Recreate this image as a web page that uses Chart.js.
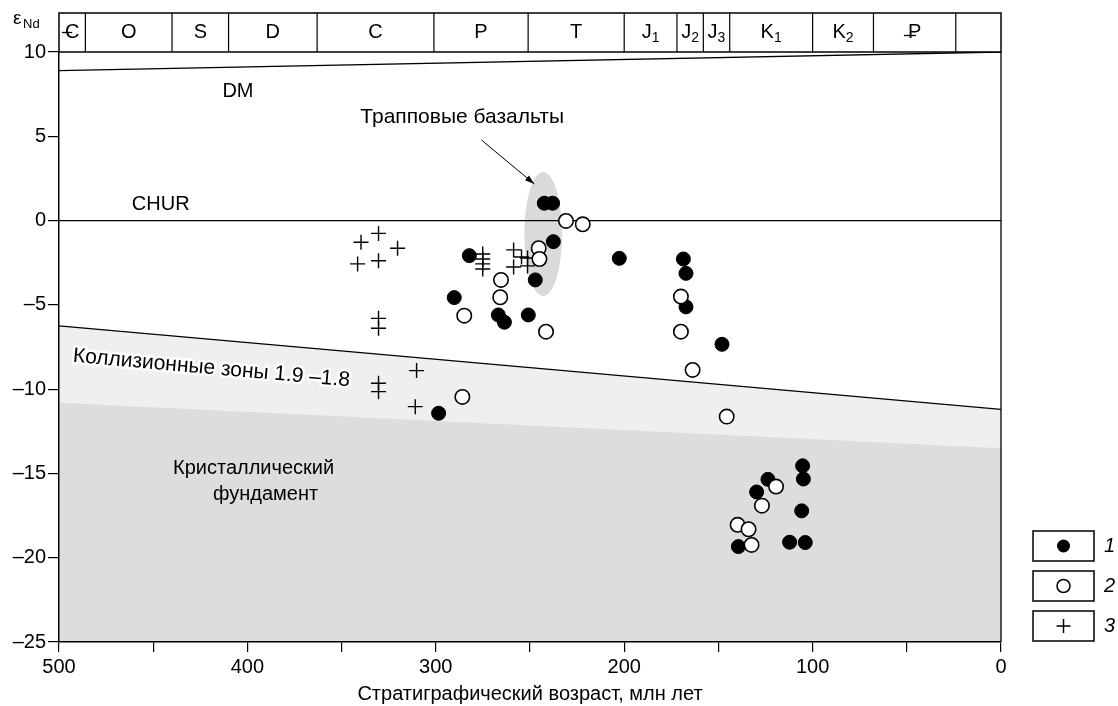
<!DOCTYPE html>
<html>
<head>
<meta charset="utf-8">
<script src="https://cdn.jsdelivr.net/npm/chart.js@4/dist/chart.umd.min.js"></script>
<style>body{margin:0;background:#fff}</style>
</head>
<body>
<canvas id="c" width="1118" height="706"></canvas>
<script>
// 1 - закрашенные кружки
var filledAge = [242.4, 238.0, 237.6, 282.2, 202.6, 168.6, 167.2, 247.2, 290.2, 167.2, 266.8, 263.6, 250.9, 148.1, 298.5, 105.3, 104.9, 123.7, 129.7, 105.8, 112.2, 103.9, 139.4];
var filledEps = [1.03, 1.03, -1.25, -2.08, -2.24, -2.28, -3.13, -3.52, -4.57, -5.12, -5.6, -6.03, -5.6, -7.34, -11.43, -14.55, -15.33, -15.35, -16.1, -17.22, -19.08, -19.1, -19.34];
// 2 - пустые кружки
var openAge = [230.9, 222, 245.4, 245, 265.4, 265.8, 284.9, 241.5, 169.9, 169.9, 163.7, 145.6, 285.9, 119.4, 126.9, 139.8, 134, 132.4];
var openEps = [-0.02, -0.22, -1.64, -2.28, -3.52, -4.55, -5.64, -6.59, -4.51, -6.59, -8.86, -11.63, -10.46, -15.78, -16.91, -18.05, -18.31, -19.24];
// 3 - крестики
var crossAge = [339.7, 330.4, 320.3, 341.5, 330.4, 330.4, 330.4, 310.2, 330.4, 330.4, 310.9, 275.1, 275.1, 275.1, 275.1, 258.7, 258.7, 254.5, 251.3, 251.3];
var crossEps = [-1.29, -0.76, -1.64, -2.57, -2.38, -5.8, -6.39, -8.9, -9.65, -10.15, -11.04, -1.98, -2.28, -2.57, -2.87, -1.74, -2.75, -2.16, -2.22, -2.69];

// линии (возраст 500 и 0)
var lineAge = [500, 0];
var dmEps = [8.9, 10];
var churEps = [0, 0];
var collisionEps = [-6.25, -11.2];
var basementEps = [-10.8, -13.5];

// шкала периодов
var periodBounds = [500, 486, 440, 410, 363, 301, 251, 200, 172, 158, 144, 100, 67.7, 24, 0];
var periodNames = ['C', 'O', 'S', 'D', 'C', 'P', 'T', 'J', 'J', 'J', 'K', 'K', 'P', ''];
var periodSubs = ['', '', '', '', '', '', '', '1', '2', '3', '1', '2', '', ''];

var FONT = "'Liberation Sans', Arial, sans-serif";

function pts(xs, ys) {
    return xs.map(function (x, i) { return { x: x, y: ys[i] }; });
}

var decor = {
    id: 'decor',
    beforeDraw: function (chart) {
        var ctx = chart.ctx, xs = chart.scales.x, ys = chart.scales.y, a = chart.chartArea;
        var px = function (v) { return xs.getPixelForValue(v); };
        var py = function (v) { return ys.getPixelForValue(v); };
        ctx.save();
        ctx.fillStyle = '#efefef';
        ctx.beginPath();
        ctx.moveTo(px(lineAge[0]), py(collisionEps[0]));
        ctx.lineTo(px(lineAge[1]), py(collisionEps[1]));
        ctx.lineTo(a.right, a.bottom);
        ctx.lineTo(a.left, a.bottom);
        ctx.closePath();
        ctx.fill();
        ctx.fillStyle = '#dddddd';
        ctx.beginPath();
        ctx.moveTo(px(lineAge[0]), py(basementEps[0]));
        ctx.lineTo(px(lineAge[1]), py(basementEps[1]));
        ctx.lineTo(a.right, a.bottom);
        ctx.lineTo(a.left, a.bottom);
        ctx.closePath();
        ctx.fill();
        // трапповые базальты
        ctx.fillStyle = '#dadada';
        ctx.beginPath();
        ctx.ellipse(px(243), py(-0.8), Math.abs(px(253) - px(243)), Math.abs(py(3.68) - py(0)), 0, 0, Math.PI * 2);
        ctx.fill();
        ctx.restore();
    },
    afterDraw: function (chart) {
        var ctx = chart.ctx, xs = chart.scales.x, ys = chart.scales.y, a = chart.chartArea;
        var px = function (v) { return xs.getPixelForValue(v); };
        var py = function (v) { return ys.getPixelForValue(v); };
        ctx.save();
        ctx.strokeStyle = '#000';
        ctx.fillStyle = '#000';
        ctx.lineWidth = 1.3;
        // правая граница
        ctx.beginPath();
        ctx.moveTo(a.right, a.top);
        ctx.lineTo(a.right, a.bottom);
        ctx.stroke();

        // шкала периодов
        var barTop = 13;
        ctx.lineWidth = 1.5;
        ctx.strokeRect(a.left, barTop, a.right - a.left, a.top - barTop);
        ctx.lineWidth = 1.2;
        for (var i = 1; i < periodBounds.length - 1; i++) {
            ctx.beginPath();
            ctx.moveTo(px(periodBounds[i]), barTop);
            ctx.lineTo(px(periodBounds[i]), a.top);
            ctx.stroke();
        }
        ctx.textBaseline = 'middle';
        var cy = (barTop + a.top) / 2;
        for (var j = 0; j < periodNames.length; j++) {
            var cx = (px(periodBounds[j]) + px(periodBounds[j + 1])) / 2;
            var name = periodNames[j], sub = periodSubs[j];
            ctx.font = '20px ' + FONT;
            var w1 = ctx.measureText(name).width;
            ctx.font = '14px ' + FONT;
            var w2 = sub ? ctx.measureText(sub).width : 0;
            var x0 = cx - (w1 + w2) / 2;
            ctx.font = '20px ' + FONT;
            ctx.textAlign = 'left';
            ctx.fillText(name, x0, cy);
            if (sub) {
                ctx.font = '14px ' + FONT;
                ctx.fillText(sub, x0 + w1, cy + 6);
            }
            ctx.lineWidth = 1.3;
            if (j === 0) {
                ctx.beginPath();
                ctx.moveTo(x0 - 3, cy);
                ctx.lineTo(x0 + w1 / 2, cy);
                ctx.stroke();
            }
            if (j === 12) {
                ctx.beginPath();
                ctx.moveTo(x0 - 4, cy + 3);
                ctx.lineTo(x0 + w1 * 0.6, cy + 3);
                ctx.stroke();
            }
        }

        // eps Nd
        ctx.textAlign = 'left';
        ctx.font = '19px ' + FONT;
        ctx.fillText('\u03b5', 13, 19);
        ctx.font = '13px ' + FONT;
        ctx.fillText('Nd', 23, 24);

        // подписи
        ctx.font = '20px ' + FONT;
        ctx.textAlign = 'center';
        ctx.fillText('DM', px(405), py(7.65));
        ctx.fillText('CHUR', px(446), py(0.93));
        ctx.font = '21px ' + FONT;
        ctx.fillText('Трапповые базальты', px(286), py(6.14));
        ctx.font = '20px ' + FONT;
        ctx.textAlign = 'left';
        ctx.fillText('Кристаллический', 173, 468);
        ctx.fillText('фундамент', 213, 494);

        // стрелка
        var ax0 = px(275.8), ay0 = py(4.78), ax1 = px(247.7), ay1 = py(2.17);
        ctx.lineWidth = 1;
        ctx.beginPath();
        ctx.moveTo(ax0, ay0);
        ctx.lineTo(ax1, ay1);
        ctx.stroke();
        var ang = Math.atan2(ay1 - ay0, ax1 - ax0);
        ctx.beginPath();
        ctx.moveTo(ax1, ay1);
        ctx.lineTo(ax1 - 10 * Math.cos(ang - 0.3), ay1 - 10 * Math.sin(ang - 0.3));
        ctx.lineTo(ax1 - 10 * Math.cos(ang + 0.3), ay1 - 10 * Math.sin(ang + 0.3));
        ctx.closePath();
        ctx.fill();

        // коллизионные зоны
        var rot = Math.atan2(py(collisionEps[1]) - py(collisionEps[0]), px(lineAge[1]) - px(lineAge[0]));
        ctx.save();
        ctx.translate(73, 356);
        ctx.rotate(rot);
        ctx.font = '21px ' + FONT;
        ctx.textAlign = 'left';
        ctx.textBaseline = 'middle';
        ctx.lineJoin = 'round';
        ctx.strokeStyle = '#fff';
        ctx.lineWidth = 5;
        ctx.strokeText('Коллизионные зоны 1.9 –1.8', 0, 0);
        ctx.fillStyle = '#000';
        ctx.fillText('Коллизионные зоны 1.9 –1.8', 0, 0);
        ctx.restore();

        // легенда
        var boxes = [531, 571, 611];
        ctx.strokeStyle = '#000';
        ctx.lineWidth = 1.5;
        for (var k = 0; k < 3; k++) {
            ctx.fillStyle = '#fff';
            ctx.fillRect(1033, boxes[k], 61, 30);
            ctx.strokeRect(1033, boxes[k], 61, 30);
            var mx = 1063.5, my = boxes[k] + 15;
            ctx.fillStyle = '#000';
            if (k === 0) {
                ctx.beginPath(); ctx.arc(mx, my, 6.5, 0, Math.PI * 2); ctx.fill();
            } else if (k === 1) {
                ctx.beginPath(); ctx.arc(mx, my, 6.5, 0, Math.PI * 2); ctx.stroke();
            } else {
                ctx.beginPath();
                ctx.moveTo(mx - 7, my); ctx.lineTo(mx + 7, my);
                ctx.moveTo(mx, my - 7); ctx.lineTo(mx, my + 7);
                ctx.stroke();
            }
            ctx.font = 'italic 20px ' + FONT;
            ctx.textAlign = 'left';
            ctx.textBaseline = 'middle';
            ctx.fillText(String(k + 1), 1104, my);
        }
        ctx.restore();
    }
};

var ctx = document.getElementById('c').getContext('2d');
var chart = new Chart(ctx, {
    type: 'scatter',
    data: {
        datasets: [
            {
                label: '2', data: pts(openAge, openEps), order: 1,
                pointStyle: 'circle', pointRadius: 7.2, pointBackgroundColor: '#fff',
                pointBorderColor: '#000', pointBorderWidth: 1.6
            },
            {
                label: '3', data: pts(crossAge, crossEps), order: 2,
                pointStyle: 'cross', pointRadius: 7.5, pointBorderColor: '#000', pointBorderWidth: 1.4
            },
            {
                label: '1', data: pts(filledAge, filledEps), order: 3,
                pointStyle: 'circle', pointRadius: 7, pointBackgroundColor: '#000',
                pointBorderColor: '#000', pointBorderWidth: 1
            },
            {
                label: 'DM', type: 'line', data: pts(lineAge, dmEps), order: 10,
                borderColor: '#000', borderWidth: 1.3, pointRadius: 0, fill: false
            },
            {
                label: 'CHUR', type: 'line', data: pts(lineAge, churEps), order: 10,
                borderColor: '#000', borderWidth: 1.3, pointRadius: 0, fill: false
            },
            {
                label: 'collision', type: 'line', data: pts(lineAge, collisionEps), order: 10,
                borderColor: '#000', borderWidth: 1.3, pointRadius: 0, fill: false
            }
        ]
    },
    options: {
        responsive: false,
        animation: false,
        layout: { padding: { left: 0, top: 52, right: 117, bottom: 0 } },
        plugins: { legend: { display: false }, tooltip: { enabled: false } },
        scales: {
            x: {
                type: 'linear', min: 0, max: 500, reverse: true,
                afterFit: function (s) { s.height = 64; },
                border: { color: '#000', width: 1.5 },
                grid: { drawOnChartArea: false, tickLength: 10, color: '#000', lineWidth: 1.2 },
                ticks: {
                    stepSize: 50, color: '#000', padding: 3, maxRotation: 0,
                    font: { family: FONT, size: 20 },
                    callback: function (v) { return v % 100 === 0 ? String(v) : ''; }
                },
                title: {
                    display: true, text: 'Стратиграфический возраст, млн лет', color: '#000',
                    font: { family: FONT, size: 20 }, padding: { top: 0, bottom: 0 }
                }
            },
            y: {
                type: 'linear', min: -25, max: 10,
                afterFit: function (s) { s.width = 59; },
                border: { color: '#000', width: 1.5 },
                grid: { drawOnChartArea: false, tickLength: 11, color: '#000', lineWidth: 1.2 },
                ticks: {
                    stepSize: 5, color: '#000', padding: 2,
                    font: { family: FONT, size: 20 },
                    callback: function (v) { return String(v).replace('-', '\u2013'); }
                }
            }
        }
    },
    plugins: [decor]
});
</script>
</body>
</html>
